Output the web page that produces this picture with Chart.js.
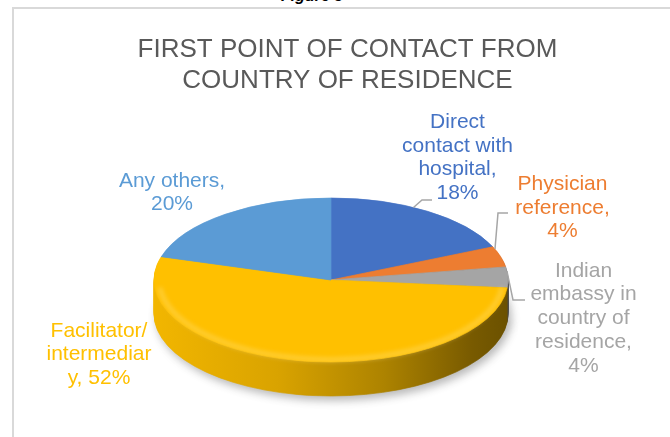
<!DOCTYPE html>
<html>
<head>
<meta charset="utf-8">
<script src="https://cdn.jsdelivr.net/npm/chart.js@4.4.0/dist/chart.umd.min.js"></script>
<style>
  html, body { margin: 0; padding: 0; background: #fff; overflow: hidden; }
  body { width: 670px; height: 437px; position: relative; }
  #figcap { position: absolute; left: 281px; top: -13px; font: italic bold 16px 'Liberation Sans', Arial, sans-serif; color: #000; }
  #frame { position: absolute; left: 12px; top: 7px; width: 700px; height: 460px; border-left: 2px solid #d9d9d9; border-top: 2px solid #d9d9d9; }
  #pie { position: absolute; left: 14px; top: 9px; }
</style>
</head>
<body>
<div id="figcap">Figure 5</div>
<div id="frame"></div>
<canvas id="pie" width="668" height="428"></canvas>
<script>
const titleLines = ['FIRST POINT OF CONTACT FROM', 'COUNTRY OF RESIDENCE'];
const categories = [
  'Direct contact with hospital',
  'Physician reference',
  'Indian embassy in country of residence',
  'Facilitator/ intermediary',
  'Any others',
];
const shares = [18, 4, 4, 52, 20];
const sliceColors = ['#4472C4', '#ED7D31', '#A5A5A5', '#FFC000', '#5B9BD5'];

// wrapped data labels, same breaks as the original
const labelLines = [
  ['Direct', 'contact with', 'hospital,', shares[0] + '%'],
  ['Physician', 'reference,', shares[1] + '%'],
  ['Indian', 'embassy in', 'country of', 'residence,', shares[2] + '%'],
  ['Facilitator/', 'intermediar', 'y, ' + shares[3] + '%'],
  ['Any others,', shares[4] + '%'],
];

// label placement (canvas px) and leader lines
const labelPos = [
  { x: 443.5, y: 119, leader: { f: 0.42, elbow: [408, 191], end: [418, 191] } },
  { x: 548.5, y: 181, leader: { f: 0.12, elbow: [484, 204], end: [494, 204] } },
  { x: 569.5, y: 267.7, leader: { f: 0.2, elbow: [499, 291], end: [511, 291] } },
  { x: 85, y: 327.7 },
  { x: 158, y: 177.7 },
];
const lineStep = 23.7;
const tilt = 0.463;   // vertical squash of the pie
const depth = 34;     // thickness of the pie side

function shade(hex, f) {
  const n = parseInt(hex.slice(1), 16);
  const r = Math.round(((n >> 16) & 255) * f);
  const g = Math.round(((n >> 8) & 255) * f);
  const b = Math.round((n & 255) * f);
  return `rgb(${r},${g},${b})`;
}

function squash(ctx, cx, cy) {
  ctx.translate(cx, cy);
  ctx.scale(1, tilt);
  ctx.translate(-cx, -cy);
}

const pie3d = {
  id: 'pie3d',
  beforeDatasetsDraw(chart) {
    const ctx = chart.ctx;
    const meta = chart.getDatasetMeta(0);
    const first = meta.data[0];
    const cx = first.x, cy = first.y, R = first.outerRadius;

    const sideFill = sliceColors.map((c) => {
      const g = ctx.createLinearGradient(cx - R, 0, cx + R, 0);
      g.addColorStop(0, shade(c, 0.95));
      g.addColorStop(0.35, shade(c, 0.85));
      g.addColorStop(0.65, shade(c, 0.68));
      g.addColorStop(0.9, shade(c, 0.47));
      g.addColorStop(1, shade(c, 0.42));
      return g;
    });

    ctx.save();
    squash(ctx, cx, cy);

    for (let d = depth; d >= 1; d--) {
      ctx.save();
      ctx.translate(0, d / tilt);
      if (d === depth) {
        ctx.shadowColor = 'rgba(0,0,0,0.28)';
        ctx.shadowBlur = 9;
        ctx.shadowOffsetX = 3;
        ctx.shadowOffsetY = 4;
      }
      meta.data.forEach((arc, i) => {
        const saved = arc.options;
        arc.options = Object.assign({}, saved, {
          backgroundColor: sideFill[i],
          borderColor: sideFill[i],
          borderWidth: 1,
        });
        arc.draw(ctx);
        arc.options = saved;
      });
      ctx.restore();
    }
    // the top face is drawn by Chart.js with this transform still active
  },
  afterDatasetsDraw(chart) {
    const ctx = chart.ctx;
    ctx.restore();
    const first = chart.getDatasetMeta(0).data[0];
    const cx = first.x, cy = first.y, R = first.outerRadius;
    // soft bevel along the front rim
    ctx.save();
    squash(ctx, cx, cy);
    ctx.beginPath();
    ctx.arc(cx, cy, R - 5, 0.03 * Math.PI, 0.97 * Math.PI);
    ctx.restore();
    ctx.save();
    ctx.filter = 'blur(2px)';
    ctx.strokeStyle = 'rgba(255,230,140,0.35)';
    ctx.lineWidth = 5;
    ctx.stroke();
    ctx.restore();
  },
  afterDraw(chart) {
    const ctx = chart.ctx;
    const meta = chart.getDatasetMeta(0);
    ctx.save();
    ctx.textAlign = 'center';
    ctx.textBaseline = 'alphabetic';

    ctx.font = "26px 'Liberation Sans', Arial, sans-serif";
    ctx.fillStyle = '#595959';
    titleLines.forEach((t, j) => ctx.fillText(t, 333.5, 47.5 + j * 31));

    ctx.font = "21px 'Liberation Sans', Arial, sans-serif";
    labelPos.forEach((p, i) => {
      const arc = meta.data[i];
      if (p.leader) {
        const a = arc.startAngle + p.leader.f * (arc.endAngle - arc.startAngle);
        const sx = arc.x + arc.outerRadius * Math.cos(a);
        const sy = arc.y + tilt * arc.outerRadius * Math.sin(a);
        ctx.beginPath();
        ctx.moveTo(sx, sy);
        ctx.lineTo(p.leader.elbow[0], p.leader.elbow[1]);
        ctx.lineTo(p.leader.end[0], p.leader.end[1]);
        ctx.strokeStyle = '#a6a6a6';
        ctx.lineWidth = 1.5;
        ctx.stroke();
      }
      ctx.fillStyle = sliceColors[i];
      labelLines[i].forEach((t, j) => {
        ctx.fillText(t, p.x, p.y + j * lineStep);
      });
    });
    ctx.restore();
  },
};

new Chart(document.getElementById('pie'), {
  type: 'pie',
  data: {
    labels: categories,
    datasets: [
      {
        data: shares,
        backgroundColor: sliceColors,
        borderColor: sliceColors,
        borderWidth: 1,
        radius: 177,
        clip: false,
      },
    ],
  },
  options: {
    responsive: false,
    animation: false,
    events: [],
    layout: { padding: { left: 140, right: 174, top: 114, bottom: 0 } },
    plugins: {
      legend: { display: false },
      tooltip: { enabled: false },
      title: { display: false },
    },
  },
  plugins: [pie3d],
});
</script>
</body>
</html>
